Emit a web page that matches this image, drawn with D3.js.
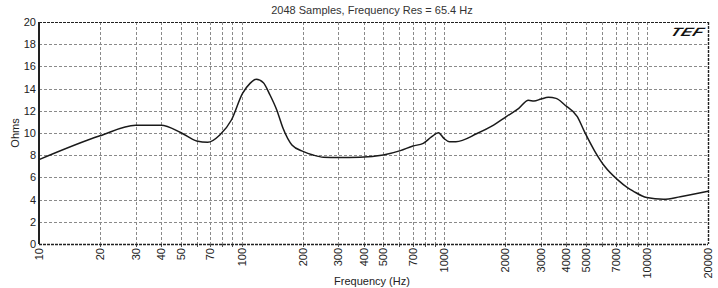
<!doctype html>
<html>
<head>
<meta charset="utf-8">
<script src="https://cdnjs.cloudflare.com/ajax/libs/d3/7.8.5/d3.min.js"></script>
<style>
  body { margin: 0; background: #fff; }
  svg { display: block; font-family: "Liberation Sans", Arial, sans-serif; }
</style>
</head>
<body>
<svg id="chart" width="718" height="288"></svg>
<script>
// impedance curve
var freqs = [10, 20, 30, 40, 50, 60, 68, 78, 89, 101, 110, 118, 128, 138, 149, 160, 177, 202, 225, 253, 300, 383,
             500, 607, 700, 787, 867, 935, 995, 1060, 1140, 1450, 1750, 2030, 2330, 2600, 2770, 3000, 3260, 3560,
             3930, 4530, 4920, 5510, 6180, 7200, 8040, 8540, 9960, 12060, 14600, 20000];
var ohms = [7.6, 9.75, 10.7, 10.7, 10.05, 9.28, 9.16, 9.82, 11.17, 13.57, 14.47, 14.85, 14.53, 13.42, 12.07, 10.42, 8.92, 8.32, 8.02, 7.82, 7.8, 7.82,
            8.02, 8.41, 8.83, 9.07, 9.67, 10.03, 9.52, 9.22, 9.22, 9.95, 10.7, 11.5, 12.22, 12.95, 12.88, 13.06, 13.21, 13.12,
            12.52, 11.47, 10.1, 8.4, 7.0, 5.75, 5.05, 4.77, 4.18, 4.03, 4.26, 4.75];

var xTickLabels = [10, 20, 30, 40, 50, 70, 100, 200, 300, 400, 500, 700, 1000, 2000, 3000, 4000, 5000, 7000, 10000, 20000];
var xGrid = [20, 30, 40, 50, 60, 70, 80, 90, 100, 200, 300, 400, 500, 600, 700, 800, 900,
             1000, 2000, 3000, 4000, 5000, 6000, 7000, 8000, 9000, 10000];
var yTicks = [0, 2, 4, 6, 8, 10, 12, 14, 16, 18, 20];

var pLeft = 39, pRight = 708, pTop = 22, pBottom = 244;

var svg = d3.select("#chart");

var x = d3.scaleLog().domain([10, 20000]).range([pLeft, pRight]);
var y = d3.scaleLinear().domain([0, 20]).range([pBottom, pTop]);

// grid
var grid = svg.append("g").attr("stroke", "#8a8a8a").attr("stroke-width", 1).attr("stroke-dasharray", "3,2");
grid.selectAll(".v").data(xGrid).enter().append("line")
  .attr("x1", d => Math.round(x(d)) + 0.5).attr("x2", d => Math.round(x(d)) + 0.5)
  .attr("y1", pTop).attr("y2", pBottom);
grid.selectAll(".h").data(yTicks.slice(1, -1)).enter().append("line")
  .attr("x1", pLeft).attr("x2", pRight)
  .attr("y1", d => Math.round(y(d)) + 0.5).attr("y2", d => Math.round(y(d)) + 0.5);

// small ticks under the axis
svg.append("g").attr("stroke", "#555").selectAll("line").data(xGrid).enter().append("line")
  .attr("x1", d => Math.round(x(d)) + 0.5).attr("x2", d => Math.round(x(d)) + 0.5)
  .attr("y1", pBottom).attr("y2", pBottom + 3);

// frame
var frame = svg.append("g").attr("stroke", "#222").attr("fill", "none");
frame.append("line").attr("x1", pLeft).attr("x2", pRight).attr("y1", pTop + 0.5).attr("y2", pTop + 0.5)
  .attr("stroke-dasharray", "3,1").attr("stroke-width", 1.2);
frame.append("line").attr("x1", pLeft).attr("x2", pRight).attr("y1", pBottom + 0.5).attr("y2", pBottom + 0.5)
  .attr("stroke-dasharray", "3,1").attr("stroke-width", 1.4);
frame.append("line").attr("x1", pRight + 0.5).attr("x2", pRight + 0.5).attr("y1", pTop).attr("y2", pBottom)
  .attr("stroke-dasharray", "3,1").attr("stroke-width", 1.4);
frame.append("line").attr("x1", pLeft).attr("x2", pLeft).attr("y1", pTop).attr("y2", pBottom)
  .attr("stroke-width", 2);

// y tick labels
svg.append("g").selectAll("text").data(yTicks).enter().append("text")
  .attr("x", pLeft - 3).attr("y", d => y(d) + 4)
  .attr("text-anchor", "end").attr("font-size", 11).attr("fill", "#222")
  .text(d => d);

// x tick labels (rotated)
svg.append("g").selectAll("text").data(xTickLabels).enter().append("text")
  .attr("transform", d => "translate(" + (x(d) + 4) + "," + (pBottom + 4) + ") rotate(-90)")
  .attr("text-anchor", "end").attr("font-size", 11).attr("fill", "#222")
  .text(d => d);

// curve
var line = d3.line()
  .x((d, i) => x(freqs[i]))
  .y(d => y(d))
  .curve(d3.curveMonotoneX);
svg.append("path").datum(ohms)
  .attr("d", line)
  .attr("fill", "none").attr("stroke", "#1a1a1a").attr("stroke-width", 1.5);

// titles
svg.append("text").attr("x", 372).attr("y", 14).attr("text-anchor", "middle")
  .attr("font-size", 11).attr("fill", "#333").text("2048 Samples, Frequency Res = 65.4 Hz");
svg.append("text").attr("x", 372).attr("y", 285).attr("text-anchor", "middle")
  .attr("font-size", 11).attr("fill", "#222").text("Frequency (Hz)");
svg.append("text").attr("transform", "translate(19,133) rotate(-90)").attr("text-anchor", "middle")
  .attr("font-size", 11).attr("fill", "#222").text("Ohms");

// TEF logo
svg.append("text").attr("transform", "translate(685,36) skewX(-35) scale(1.35,1)").attr("text-anchor", "middle")
  .attr("font-size", 12).attr("font-weight", "900").attr("letter-spacing", 0.5)
  .attr("fill", "#111").text("TEF");
</script>
</body>
</html>
